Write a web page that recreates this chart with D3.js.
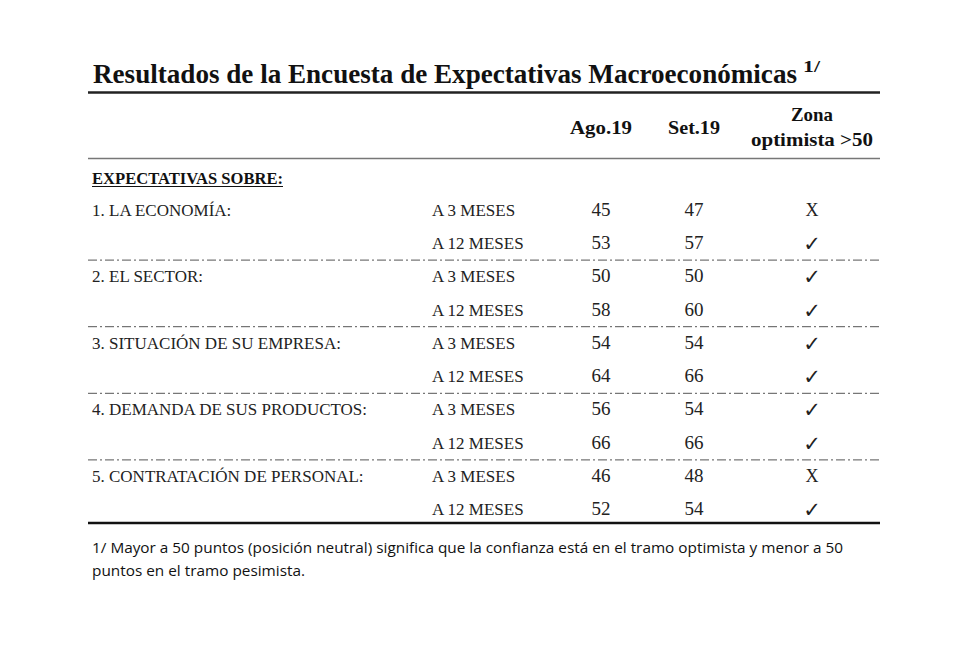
<!DOCTYPE html>
<html><head><meta charset="utf-8">
<script src="https://cdn.jsdelivr.net/npm/d3@7"></script>
<style>body{margin:0;background:#fff}svg{display:block}</style>
</head><body>
<script>
const title = "Resultados de la Encuesta de Expectativas Macroeconómicas";
const columns = ["Ago.19", "Set.19"];
const zonaHeader = ["Zona", "optimista >50"];
const sectionLabel = "EXPECTATIVAS SOBRE:";
const categories = ["1. LA ECONOMÍA:", "2. EL SECTOR:", "3. SITUACIÓN DE SU EMPRESA:", "4. DEMANDA DE SUS PRODUCTOS:", "5. CONTRATACIÓN DE PERSONAL:"];
const horizons = ["A 3 MESES", "A 12 MESES"];
const ago19 = [45, 53, 50, 58, 54, 64, 56, 66, 46, 52];
const set19 = [47, 57, 50, 60, 54, 66, 54, 66, 48, 54];
const zona = ["X", "✓", "✓", "✓", "✓", "✓", "✓", "✓", "X", "✓"];
const footnote = ["1/ Mayor a 50 puntos (posición neutral) significa que la confianza está en el tramo optimista y menor a 50",
                  "puntos en el tramo pesimista."];

const W = 980, H = 658;
const svg = d3.select("body").append("svg").attr("width", W).attr("height", H);
const serif = "'Liberation Serif', 'DejaVu Serif', serif";
const left = 88, right = 880;

// title
svg.append("text").attr("x", 93).attr("y", 83).attr("font-family", serif).attr("font-weight", "bold")
  .attr("font-size", 27).attr("textLength", 704).attr("lengthAdjust", "spacingAndGlyphs").attr("fill", "#111").text(title);
svg.append("text").attr("x", 803).attr("y", 72).attr("font-family", serif).attr("font-weight", "bold")
  .attr("font-size", 16).attr("textLength", 17).attr("lengthAdjust", "spacingAndGlyphs").attr("fill", "#111").text("1/");

svg.append("line").attr("x1", left).attr("x2", right).attr("y1", 92.5).attr("y2", 92.5).attr("stroke", "#222").attr("stroke-width", 2.5);
svg.append("line").attr("x1", left).attr("x2", right).attr("y1", 158.5).attr("y2", 158.5).attr("stroke", "#777").attr("stroke-width", 1.5);

// columns
const colX = d3.scaleOrdinal().domain(["cat", "hor", "ago", "set", "zona"]).range([92, 432, 601, 694, 812]);
const colW = [62, 52];
const zonaW = [42, 122];

svg.append("g").selectAll("text").data(columns).join("text")
  .attr("x", (d, i) => colX(i === 0 ? "ago" : "set") - colW[i] / 2).attr("y", 134)
  .attr("font-family", serif).attr("font-weight", "bold").attr("font-size", 19)
  .attr("textLength", (d, i) => colW[i]).attr("lengthAdjust", "spacingAndGlyphs").attr("fill", "#111").text(d => d);
svg.append("g").selectAll("text").data(zonaHeader).join("text")
  .attr("x", (d, i) => colX("zona") - zonaW[i] / 2).attr("y", (d, i) => 121 + i * 25)
  .attr("font-family", serif).attr("font-weight", "bold").attr("font-size", 19)
  .attr("textLength", (d, i) => zonaW[i]).attr("lengthAdjust", "spacingAndGlyphs").attr("fill", "#111").text(d => d);

// section label
svg.append("text").attr("x", 92).attr("y", 184).attr("font-family", serif).attr("font-weight", "bold")
  .attr("font-size", 16).attr("textLength", 191).attr("lengthAdjust", "spacingAndGlyphs").attr("fill", "#111").text(sectionLabel);
svg.append("line").attr("x1", 92).attr("x2", 283).attr("y1", 186.5).attr("y2", 186.5).attr("stroke", "#111").attr("stroke-width", 1.2);

// rows
const rows = d3.range(ago19.length).map(i => ({
  i, cat: i % 2 === 0 ? categories[i / 2] : "", hor: horizons[i % 2], ago: ago19[i], set: set19[i], zona: zona[i]
}));
const y = d3.scaleBand().domain(d3.range(rows.length)).range([193, 526]);
const rowG = svg.append("g").selectAll("g").data(rows).join("g")
  .attr("transform", d => `translate(0,${y(d.i) + y.bandwidth() / 2 + 6})`);
rowG.append("text").attr("x", colX("cat")).attr("font-family", serif).attr("font-size", 17).attr("fill", "#222").text(d => d.cat);
rowG.append("text").attr("x", colX("hor")).attr("font-family", serif).attr("font-size", 17).attr("fill", "#222").text(d => d.hor);
rowG.append("text").attr("x", colX("ago")).attr("text-anchor", "middle").attr("font-family", serif).attr("font-size", 19).attr("fill", "#222").text(d => d.ago);
rowG.append("text").attr("x", colX("set")).attr("text-anchor", "middle").attr("font-family", serif).attr("font-size", 19).attr("fill", "#222").text(d => d.set);
rowG.append("text").attr("x", colX("zona")).attr("text-anchor", "middle").attr("font-family", d => d.zona === "X" ? serif : "'DejaVu Sans', sans-serif")
  .attr("dy", d => d.zona === "X" ? 0 : 2)
  .attr("font-size", d => d.zona === "X" ? 18 : 21).attr("fill", "#222").text(d => d.zona);

// separators between categories
const seps = d3.range(1, categories.length).map(k => y(k * 2));
svg.append("g").selectAll("line").data(seps).join("line")
  .attr("x1", left).attr("x2", right).attr("y1", d => d + 0.5).attr("y2", d => d + 0.5)
  .attr("stroke", "#555").attr("stroke-width", 1).attr("stroke-dasharray", "9,3,2,3");

svg.append("line").attr("x1", left).attr("x2", right).attr("y1", 523).attr("y2", 523).attr("stroke", "#111").attr("stroke-width", 2.5);

// footnote
svg.append("g").selectAll("text").data(footnote).join("text")
  .attr("x", 92).attr("y", (d, i) => 553 + i * 23)
  .attr("font-family", "'Open Sans', 'Liberation Sans', sans-serif").attr("font-size", 14).attr("fill", "#111")
  .attr("textLength", (d, i) => i === 0 ? 751 : 213).attr("lengthAdjust", "spacingAndGlyphs").text(d => d);
</script>
</body></html>
